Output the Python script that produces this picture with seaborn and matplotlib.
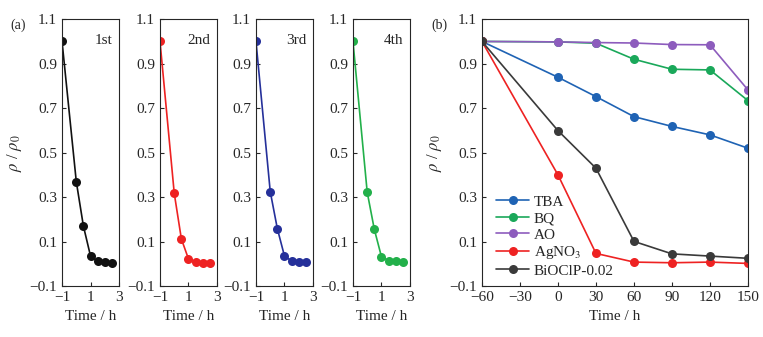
import pandas as pd
from matplotlib import pyplot as plt
import seaborn as sns

# (a) cycling runs
cycle_time = [-1, 0, 0.5, 1, 1.5, 2, 2.5]
cycle_names = ['1st', '2nd', '3rd', '4th']
cycle_1st = [1.0, 0.37, 0.17, 0.035, 0.012, 0.008, 0.005]
cycle_2nd = [1.0, 0.317, 0.112, 0.022, 0.008, 0.006, 0.006]
cycle_3rd = [1.0, 0.325, 0.158, 0.035, 0.013, 0.01, 0.008]
cycle_4th = [1.0, 0.322, 0.155, 0.032, 0.015, 0.013, 0.01]
cycle_colors = ['#111111', '#ee2222', '#25309a', '#22b04a']

# (b) scavenger tests
scav_time = [-60, 0, 30, 60, 90, 120, 150]
scav_names = ['TBA', 'BQ', 'AO', 'AgNO$_3$', 'BiOClP-0.02']
tba = [1.0, 0.839, 0.752, 0.662, 0.618, 0.58, 0.52]
bq = [1.0, 0.998, 0.992, 0.92, 0.875, 0.872, 0.734]
ao = [1.0, 0.998, 0.995, 0.993, 0.986, 0.985, 0.782]
agno3 = [1.0, 0.40, 0.047, 0.008, 0.005, 0.008, 0.002]
bioclp = [1.0, 0.599, 0.43, 0.101, 0.045, 0.035, 0.025]
scav_colors = ['#1f63b4', '#1aa85a', '#8d5cbd', '#ee2222', '#3a3a3a']

sns.set_style('ticks')
plt.rcParams['font.family'] = ['Liberation Serif', 'DejaVu Serif']
plt.rcParams['mathtext.fontset'] = 'stix'
plt.rcParams['xtick.direction'] = 'in'
plt.rcParams['ytick.direction'] = 'in'

fs = 11
ylabel = r'$\rho$ / $\rho_0$'
yticks = [-0.1, 0.1, 0.3, 0.5, 0.7, 0.9, 1.1]
ytick_labels = ['\u22120.1', '0.1', '0.3', '0.5', '0.7', '0.9', '1.1']

fig = plt.figure(figsize=(7.63, 3.37), dpi=100)

lefts = [0.0813, 0.2097, 0.3355, 0.4626]
cycles = [cycle_1st, cycle_2nd, cycle_3rd, cycle_4th]
for i, (name, vals, col) in enumerate(zip(cycle_names, cycles, cycle_colors)):
    ax = fig.add_axes([lefts[i], 0.151, 0.0747, 0.792])
    df = pd.DataFrame({'time': cycle_time, 'ratio': vals})
    sns.lineplot(data=df, x='time', y='ratio', color=col, marker='o',
                 markersize=6.5, markeredgewidth=0, linewidth=1.2, ax=ax)
    ax.set_xlim(-1, 3)
    ax.set_ylim(-0.1, 1.1)
    ax.set_xticks([-1, 1, 3])
    ax.set_xticklabels(['\u22121', '1', '3'])
    ax.set_yticks(yticks)
    ax.set_yticklabels(ytick_labels)
    ax.tick_params(labelsize=fs, length=3, width=0.8)
    ax.set_xlabel('Time / h', fontsize=fs)
    ax.set_ylabel(ylabel if i == 0 else '', fontsize=fs + 1)
    ax.text(0.88, 0.92, name, transform=ax.transAxes, ha='right', va='center', fontsize=fs)
    for sp in ax.spines.values():
        sp.set_linewidth(0.8)
fig.text(0.014, 0.915, '(a)', fontsize=fs - 1)

axb = fig.add_axes([0.6317, 0.151, 0.3486, 0.792])
rows = []
for name, vals in zip(scav_names, [tba, bq, ao, agno3, bioclp]):
    for t, v in zip(scav_time, vals):
        rows.append({'time': t, 'ratio': v, 'group': name})
dfb = pd.DataFrame(rows)
sns.lineplot(data=dfb, x='time', y='ratio', hue='group', hue_order=scav_names,
             palette=scav_colors, marker='o', markersize=6.5, markeredgewidth=0,
             linewidth=1.2, ax=axb)
axb.set_xlim(-60, 150)
axb.set_ylim(-0.1, 1.1)
axb.set_xticks([-60, -30, 0, 30, 60, 90, 120, 150])
axb.set_xticklabels(['\u221260', '\u221230', '0', '30', '60', '90', '120', '150'])
axb.set_yticks(yticks)
axb.set_yticklabels(ytick_labels)
axb.tick_params(labelsize=fs, length=3, width=0.8)
axb.set_xlabel('Time / h', fontsize=fs)
axb.set_ylabel(ylabel, fontsize=fs + 1)
for sp in axb.spines.values():
    sp.set_linewidth(0.8)
axb.legend(loc='lower left', bbox_to_anchor=(0.0, -0.02), frameon=False, fontsize=fs,
           handlelength=2.2, handletextpad=0.3, labelspacing=0.18)
fig.text(0.566, 0.915, '(b)', fontsize=fs - 1)

fig.savefig('out.png', dpi=100)
